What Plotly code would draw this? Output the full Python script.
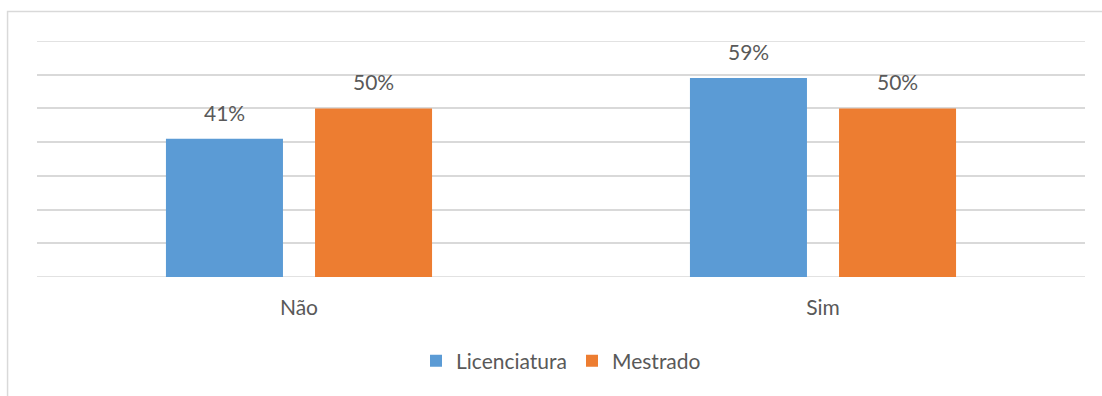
import plotly.graph_objects as go

categories = ["Não", "Sim"]
series_names = ["Licenciatura", "Mestrado"]
licenciatura = [0.41, 0.59]
mestrado = [0.50, 0.50]
colors = ["#5B9BD5", "#ED7D31"]

FONT = "Lato"
TEXT_COLOR = "#595959"
GRID = "#D9D9D9"
Y_MAX = 0.7

fig = go.Figure()
for name, vals, col in zip(series_names, [licenciatura, mestrado], colors):
    fig.add_trace(go.Bar(
        x=categories, y=vals, name=name, marker_color=col,
        marker_line_width=0,
    ))

# value labels above each bar
offsets = [-74.5, 74.5]
for vals, dx in zip([licenciatura, mestrado], offsets):
    for cat, v in zip(categories, vals):
        fig.add_annotation(
            x=cat, y=v, text=f"{v:.0%}", showarrow=False,
            xshift=dx, yshift=12, yanchor="bottom",
            font=dict(family=FONT, size=21, color=TEXT_COLOR),
        )

# edge gridlines (baseline and top) plus outer frame
shapes = [dict(type="line", xref="paper", yref="y", x0=0, x1=1, y0=yv, y1=yv,
               line=dict(color=GRID, width=1.5), layer="below")
          for yv in (0, Y_MAX)]
shapes.append(dict(type="rect", xref="paper", yref="paper",
                   x0=-0.0281, x1=1.03, y0=-0.6, y1=1.125,
                   line=dict(color=GRID, width=1.5), layer="below"))

fig.update_layout(
    width=1102, height=396,
    margin=dict(l=37, r=17, t=41, b=119),
    paper_bgcolor="white", plot_bgcolor="white",
    barmode="group", bargap=0.431, bargroupgap=0.215,
    font=dict(family=FONT, size=21, color=TEXT_COLOR),
    showlegend=True,
    legend=dict(orientation="h", x=0.5, xanchor="center", y=-0.27, yanchor="top",
                font=dict(family=FONT, size=21, color=TEXT_COLOR),
                itemwidth=30, tracegroupgap=0),
    xaxis=dict(showgrid=False, showline=False, ticks="", zeroline=False,
               tickfont=dict(family=FONT, size=21, color=TEXT_COLOR),
               ticklabelstandoff=16),
    yaxis=dict(range=[0, Y_MAX], dtick=0.1, showgrid=True, gridcolor=GRID,
               gridwidth=1.5, showticklabels=False, zeroline=False, showline=False,
               ticks=""),
    shapes=shapes,
)

fig.write_html("out.html")
